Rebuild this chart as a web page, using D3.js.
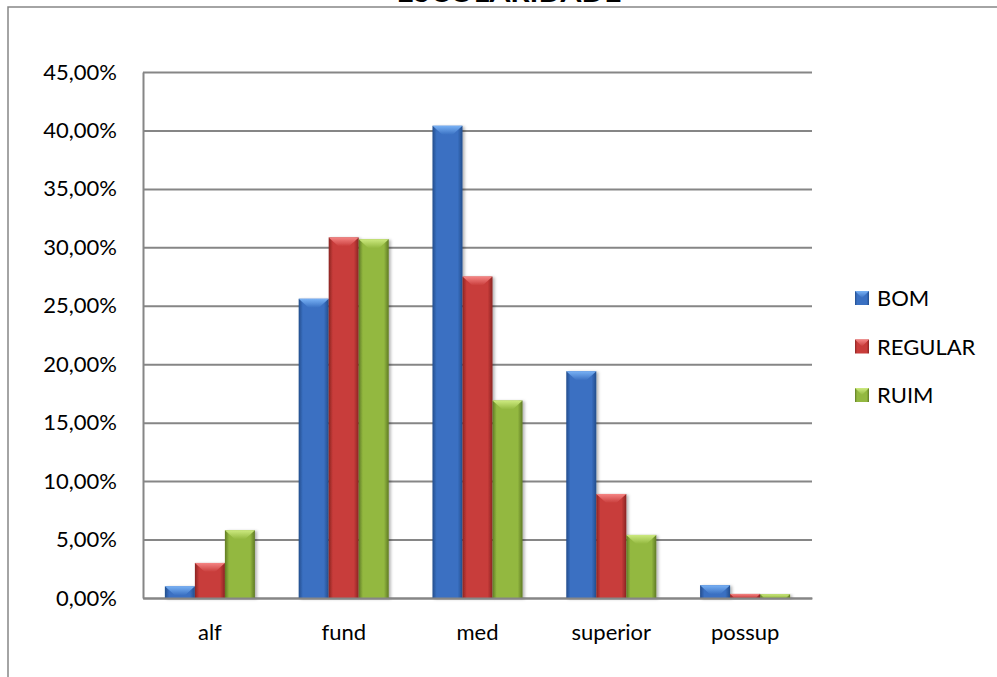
<!DOCTYPE html>
<html>
<head>
<meta charset="utf-8">
<script src="https://cdn.jsdelivr.net/npm/d3@7"></script>
<style>
  body { margin: 0; background: #fff; }
  text { font-family: Lato, "Open Sans", sans-serif; }
</style>
</head>
<body>
<script>
// data
var categories = ['alf', 'fund', 'med', 'superior', 'possup'];
var series = ['BOM', 'REGULAR', 'RUIM'];
var bom = [1.0, 25.6, 40.4, 19.4, 1.1];
var regular = [3.0, 30.85, 27.5, 8.9, 0.35];
var ruim = [5.8, 30.7, 16.9, 5.4, 0.33];
var yTicks = [0, 5, 10, 15, 20, 25, 30, 35, 40, 45];

var values = { BOM: bom, REGULAR: regular, RUIM: ruim };
var colors = {
    BOM:     { edge: '#234d8c', body: '#3a70c2', light: '#79b2f5' },
    REGULAR: { edge: '#8a2422', body: '#c83c3a', light: '#f58584' },
    RUIM:    { edge: '#5f7a24', body: '#93b840', light: '#cdea80' }
};

var W = 997, H = 677;
var plotLeft = 143, plotRight = 812, plotTop = 72, plotBottom = 598;

var svg = d3.select('body').append('svg')
    .attr('width', W)
    .attr('height', H);

var defs = svg.append('defs');
series.forEach(function (s) {
    var g = defs.append('linearGradient').attr('id', 'g-' + s)
        .attr('x1', 0).attr('x2', 1).attr('y1', 0).attr('y2', 0);
    g.append('stop').attr('offset', '0%').attr('stop-color', colors[s].edge);
    g.append('stop').attr('offset', '14%').attr('stop-color', colors[s].body);
    g.append('stop').attr('offset', '84%').attr('stop-color', colors[s].body);
    g.append('stop').attr('offset', '100%').attr('stop-color', colors[s].edge);
    var t = defs.append('linearGradient').attr('id', 't-' + s)
        .attr('x1', 0).attr('x2', 0).attr('y1', 0).attr('y2', 1);
    t.append('stop').attr('offset', '0%').attr('stop-color', colors[s].light);
    t.append('stop').attr('offset', '100%').attr('stop-color', colors[s].body);
});
var f = defs.append('filter').attr('id', 'shadow')
    .attr('x', '-20%').attr('y', '-20%').attr('width', '150%').attr('height', '150%');
f.append('feDropShadow').attr('dx', 2).attr('dy', 1).attr('stdDeviation', 1.5)
    .attr('flood-color', '#000').attr('flood-opacity', 0.3);

// outer chart border (right and bottom edges fall outside the window)
svg.append('rect')
    .attr('x', 8).attr('y', 7)
    .attr('width', W + 20).attr('height', H + 20)
    .attr('fill', 'none')
    .attr('stroke', '#868686')
    .attr('stroke-width', 1.5);

// title (mostly cut off at the top)
svg.append('text')
    .attr('x', 509).attr('y', 2)
    .attr('text-anchor', 'middle')
    .attr('font-size', '30px')
    .attr('font-weight', 'bold')
    .text('ESCOLARIDADE');

//scales
var x = d3.scaleBand()
    .domain(categories)
    .range([plotLeft, plotRight])
    .paddingInner(0.327)
    .paddingOuter(0.1635);
var xs = d3.scaleBand()
    .domain(series)
    .range([0, x.bandwidth()]);
var y = d3.scaleLinear()
    .domain([0, 45])
    .range([plotBottom, plotTop]);

// gridlines
var grid = svg.append('g')
    .attr('transform', 'translate(' + plotLeft + ',0)')
    .call(d3.axisLeft(y).tickValues(yTicks).tickSize(-(plotRight - plotLeft)).tickFormat(''));
grid.select('.domain').remove();
grid.selectAll('line').attr('stroke', '#868686').attr('stroke-width', 2);

// left axis line + labels
var yaxis = svg.append('g')
    .attr('transform', 'translate(' + plotLeft + ',0)')
    .call(d3.axisLeft(y).tickValues(yTicks).tickSize(0).tickPadding(26)
        .tickFormat(function (d) { return d3.format('.2f')(d).replace('.', ',') + '%'; }));
yaxis.select('.domain').attr('stroke', '#868686').attr('stroke-width', 2);
yaxis.selectAll('text').attr('font-size', '22px').attr('fill', '#000')
    .attr('font-family', 'Lato, sans-serif');

// bars
var rows = [];
categories.forEach(function (c, i) {
    series.forEach(function (s) {
        rows.push({ cat: c, s: s, v: values[s][i] });
    });
});

var bars = svg.append('g').selectAll('g.bar')
    .data(rows)
    .enter().append('g')
    .attr('class', 'bar')
    .attr('filter', 'url(#shadow)');

bars.append('rect')
    .attr('x', function (d) { return x(d.cat) + xs(d.s); })
    .attr('y', function (d) { return y(d.v); })
    .attr('width', xs.bandwidth())
    .attr('height', function (d) { return plotBottom - y(d.v); })
    .attr('fill', function (d) { return 'url(#g-' + d.s + ')'; });

// bevelled top
bars.append('polygon')
    .attr('points', function (d) {
        var x0 = x(d.cat) + xs(d.s), w = xs.bandwidth();
        var t = y(d.v), b = Math.min(9, plotBottom - t);
        var inset = Math.min(10, b * 1.1);
        return [[x0, t], [x0 + w, t], [x0 + w - inset, t + b], [x0 + inset, t + b]].join(' ');
    })
    .attr('fill', function (d) { return 'url(#t-' + d.s + ')'; });

// category axis
var xaxis = svg.append('g')
    .attr('transform', 'translate(0,' + plotBottom + ')')
    .call(d3.axisBottom(x).tickSize(0).tickPadding(26));
xaxis.select('.domain').attr('stroke', '#868686').attr('stroke-width', 2);
xaxis.selectAll('text').attr('font-size', '22px').attr('fill', '#000')
    .attr('font-family', 'Lato, sans-serif');

// legend
var legendY = d3.scalePoint().domain(series).range([298, 395]);
var legend = svg.append('g').selectAll('g')
    .data(series)
    .enter().append('g')
    .attr('transform', function (s) { return 'translate(855,' + legendY(s) + ')'; });
legend.append('rect')
    .attr('x', 0).attr('y', -7)
    .attr('width', 14).attr('height', 14)
    .attr('fill', function (s) { return 'url(#g-' + s + ')'; });
legend.append('polygon')
    .attr('points', '0,-7 14,-7 7,0')
    .attr('fill', function (s) { return 'url(#t-' + s + ')'; });
legend.append('text')
    .attr('x', 22).attr('y', 8)
    .attr('font-size', '22px')
    .text(function (s) { return s; });
</script>
</body>
</html>
